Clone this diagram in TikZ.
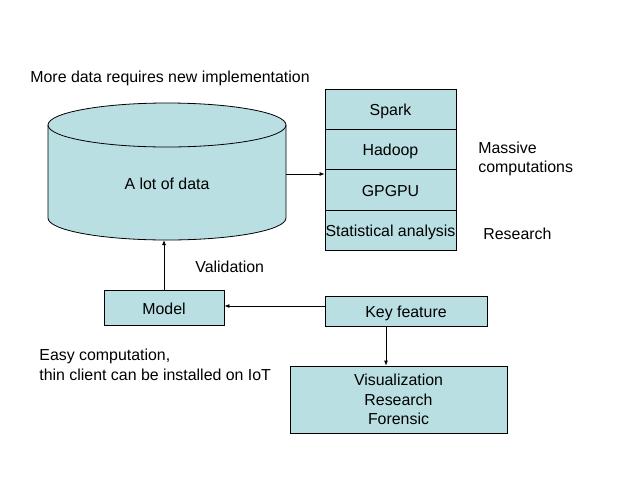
\documentclass[tikz,border=0pt]{standalone}
\usepackage{fontspec}
\setmainfont{Liberation Sans}
\usetikzlibrary{arrows.meta}
\definecolor{paleblue}{RGB}{185,223,227}

\begin{document}
\begin{tikzpicture}[x=1pt, y=-1pt, line width=0.8pt,
    every node/.style = {font=\fontsize{15.9}{19.5}\selectfont, inner sep=0pt},
    box/.style = {shape=rectangle, draw, fill=paleblue, align=center},
    onebox/.style = {box, text height=13pt, text depth=0pt},
    label/.style = {anchor=west, align=left},
    link/.style = {-{Latex[length=5pt,width=4pt]}}]
  \useasboundingbox (0,0) rectangle (640,480);
  % the data store, drawn as a cylinder
  \filldraw[fill=paleblue] (48,125) -- (48,218)
    arc[start angle=180, end angle=0, x radius=119, y radius=22]
    -- (286,125) arc[start angle=0, end angle=-180, x radius=119, y radius=22];
  \draw (48,125) arc[start angle=180, end angle=0, x radius=119, y radius=22];
  \node (data) at (167,184) {A lot of data};
  \coordinate (dataright) at (286,174);
  \coordinate (databottom) at (167,240);
  \node[onebox, minimum width=131, minimum height=40] (spark) at (390.5,109) {Spark};
  \node[onebox, minimum width=131, minimum height=40] (hadoop) at (390.5,149) {Hadoop};
  \node[onebox, minimum width=131, minimum height=41] (gpgpu) at (390.5,189.5) {GPGPU};
  \node[onebox, minimum width=131, minimum height=40] (stats) at (390.5,230) {Statistical analysis};
  \node[onebox, minimum width=120, minimum height=35] (model) at (164,307.5) {Model};
  \node[onebox, minimum width=162, minimum height=30] (key) at (406,311) {Key feature};
  \node[box, minimum width=217, minimum height=67] (uses) at (398.5,399.5)
    {Visualization\\Research\\Forensic};
  % free texts
  \node[label] (more) at (30,78) {More data requires new implementation};
  \node[label] (valid) at (195,267) {Validation};
  \node[label] (massive) at (478,159) {Massive\\computations};
  \node[label] (research) at (483,234) {Research};
  \node[label] (easy) at (39,365) {Easy computation,\\thin client can be installed on IoT};
  % connectors
  \draw[link] (dataright) -- (dataright -| gpgpu.west);
  \draw[link] (model.north) -- (databottom -| model.north);
  \draw[link] ([yshift=5pt]key.west) -- ([yshift=5pt]key.west -| model.east);
  \draw[link] ([xshift=-20pt]key.south) -- ([xshift=-20pt]key.south |- uses.north);
\end{tikzpicture}
\end{document}
